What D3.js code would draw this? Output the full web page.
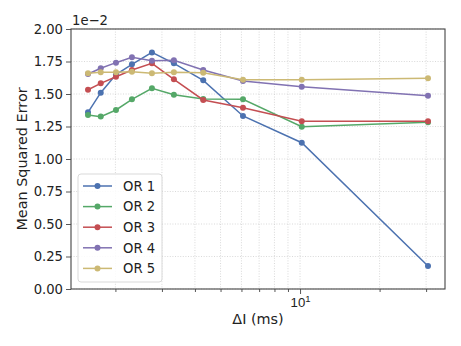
<!DOCTYPE html>
<html><head><meta charset="utf-8">
<script src="https://cdn.jsdelivr.net/npm/d3@7"></script>
<style>body{margin:0;background:#fff}svg{display:block;font-family:"DejaVu Sans",sans-serif}</style>
</head><body><svg id="c" width="461" height="346"></svg>
<script>
const xValues = [1.575, 1.76, 2.01, 2.31, 2.75, 3.33, 4.3, 6.08, 10.15, 30.5];
const seriesNames = ["OR 1", "OR 2", "OR 3", "OR 4", "OR 5"];
const seriesColors = ["#4c72b0", "#55a868", "#c44e52", "#8172b2", "#ccb974"];
const or1 = [1.359, 1.51, 1.65, 1.728, 1.82, 1.736, 1.605, 1.331, 1.125, 0.177];
const or2 = [1.338, 1.326, 1.377, 1.459, 1.544, 1.495, 1.462, 1.459, 1.249, 1.282];
const or3 = [1.533, 1.582, 1.633, 1.685, 1.736, 1.613, 1.454, 1.395, 1.29, 1.29];
const or4 = [1.654, 1.698, 1.741, 1.782, 1.756, 1.759, 1.685, 1.6, 1.556, 1.487];
const or5 = [1.659, 1.667, 1.667, 1.672, 1.659, 1.667, 1.664, 1.61, 1.61, 1.621];
const yTicks = [0, 0.25, 0.5, 0.75, 1.0, 1.25, 1.5, 1.75, 2.0];
const offsetLabel = "1e\u22122";
const xLabel = "\u0394I (ms)";
const yLabel = "Mean Squared Error";

const series = [or1, or2, or3, or4, or5];
const L = 71, R = 445, T = 29, B = 289;
const svg = d3.select("#c");
const lx0 = Math.log10(d3.min(xValues)), lx1 = Math.log10(d3.max(xValues));
const pad = (lx1 - lx0) * 0.05;
const x = d3.scaleLog().domain([Math.pow(10, lx0 - pad), Math.pow(10, lx1 + pad)]).range([L, R]);
const y = d3.scaleLinear().domain([0, 2.0]).range([B, T]);

const allX = x.ticks();
// grid
const g = svg.append("g");
g.selectAll(".gx").data(allX).enter().append("line")
  .attr("x1", d => x(d)).attr("x2", d => x(d)).attr("y1", T).attr("y2", B)
  .attr("stroke", "#cfcfcf").attr("stroke-width", 0.8).attr("stroke-dasharray", "1,1.6");
g.selectAll(".gy").data(yTicks).enter().append("line")
  .attr("x1", L).attr("x2", R).attr("y1", d => y(d)).attr("y2", d => y(d))
  .attr("stroke", "#cfcfcf").attr("stroke-width", 0.8).attr("stroke-dasharray", "1,1.6");

// axes
const yAxis = d3.axisLeft(y).tickValues(yTicks).tickFormat(d3.format(".2f")).tickSize(5).tickPadding(3);
const ya = svg.append("g").attr("transform", `translate(${L},0)`).call(yAxis);
const xAxis = d3.axisBottom(x).tickValues(allX).tickFormat(() => "").tickSize(3);
const xa = svg.append("g").attr("transform", `translate(0,${B})`).call(xAxis);
[ya, xa].forEach(a => {
  a.select(".domain").remove();
  a.selectAll("line").attr("stroke", "#444").attr("stroke-width", 0.9);
  a.selectAll("text").attr("font-size", 13.2).attr("fill", "#222").attr("font-family", "DejaVu Sans");
});
xa.selectAll(".tick").filter(d => Math.abs(Math.log10(d) - Math.round(Math.log10(d))) < 1e-9)
  .select("line").attr("y2", 5);
xa.selectAll(".tick").filter(d => Math.abs(Math.log10(d) - Math.round(Math.log10(d))) < 1e-9)
  .each(function(d) {
    const t = d3.select(this).append("text").attr("y", 18).attr("dy", 0)
      .attr("fill", "#222").attr("font-size", 13.2).attr("text-anchor", "middle");
    t.append("tspan").text("10");
    t.append("tspan").attr("dy", -5).attr("font-size", 9.5).text(String(Math.round(Math.log10(d))));
  });
xa.selectAll(".tick text").filter(function(){return this.textContent==="";}).remove();

// frame
svg.append("rect").attr("x", L).attr("y", T).attr("width", R - L).attr("height", B - T)
  .attr("fill", "none").attr("stroke", "#444").attr("stroke-width", 1.1);

// lines
const line = d3.line().x((d, i) => x(xValues[i])).y(d => y(d));
series.forEach((s, k) => {
  svg.append("path").datum(s).attr("d", line).attr("fill", "none")
    .attr("stroke", seriesColors[k]).attr("stroke-width", 1.5);
  svg.selectAll(null).data(s).enter().append("circle")
    .attr("cx", (d, i) => x(xValues[i])).attr("cy", d => y(d)).attr("r", 3)
    .attr("fill", seriesColors[k]);
});

// labels
svg.append("text").attr("x", L + 1).attr("y", 25).attr("font-size", 13.2).attr("fill", "#222").text(offsetLabel);
svg.append("text").attr("x", (L + R) / 2).attr("y", 324).attr("text-anchor", "middle")
  .attr("font-size", 14.4).attr("fill", "#222").text(xLabel);
svg.append("text").attr("transform", `translate(27,${(T + B) / 2}) rotate(-90)`).attr("text-anchor", "middle")
  .attr("font-size", 14.4).attr("fill", "#222").text(yLabel);

// legend
const lg = svg.append("g");
lg.append("rect").attr("x", 78).attr("y", 174).attr("width", 84).attr("height", 108).attr("rx", 3)
  .attr("fill", "#fff").attr("fill-opacity", 0.85).attr("stroke", "#d5d5d5").attr("stroke-width", 0.9);
seriesNames.forEach((n, k) => {
  const yy = 186 + k * 20.6;
  lg.append("line").attr("x1", 83).attr("x2", 112).attr("y1", yy).attr("y2", yy)
    .attr("stroke", seriesColors[k]).attr("stroke-width", 1.5);
  lg.append("circle").attr("cx", 97.5).attr("cy", yy).attr("r", 3).attr("fill", seriesColors[k]);
  lg.append("text").attr("x", 123).attr("y", yy + 4.8).attr("font-size", 13.2).attr("fill", "#222").text(n);
});
</script></body></html>
